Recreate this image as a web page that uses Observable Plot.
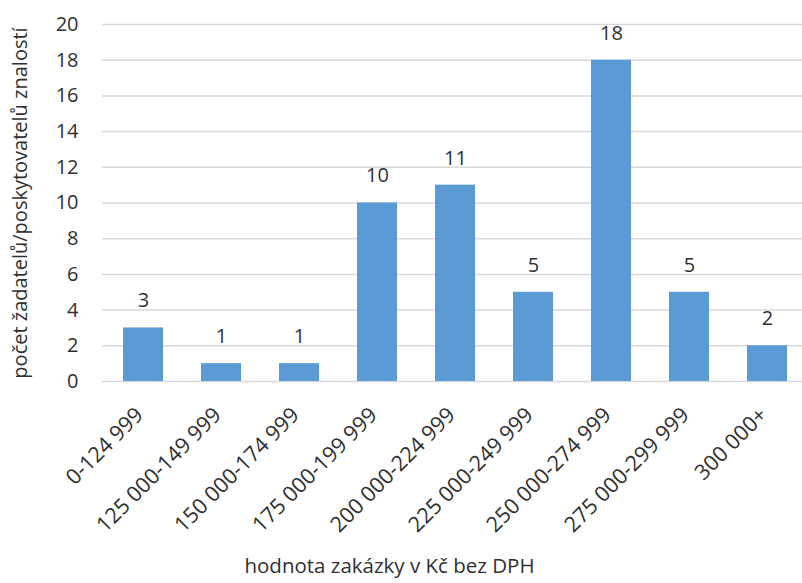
<!DOCTYPE html>
<html><head><meta charset="utf-8">
<script src="https://cdn.jsdelivr.net/npm/d3@7"></script>
<script src="https://cdn.jsdelivr.net/npm/@observablehq/plot@0.6"></script>
<style>
html,body{margin:0;padding:0;background:#fff;overflow:hidden;}
#chart svg{display:block;max-width:none !important;}
</style></head>
<body><div id="chart"></div>
<script>
const categories = ["0-124 999","125 000-149 999","150 000-174 999","175 000-199 999","200 000-224 999","225 000-249 999","250 000-274 999","275 000-299 999","300 000+"];
const values = [3,1,1,10,11,5,18,5,2];
const yTicks = [0,2,4,6,8,10,12,14,16,18,20];
const xTitle = "hodnota zakázky v Kč bez DPH";
const yTitle = "počet žadatelů/poskytovatelů znalostí";

const data = categories.map((c,i)=>({cat:c, val:values[i]}));
const font = "'Open Sans', sans-serif";
const chart = Plot.plot({
  width: 808, height: 583,
  marginLeft: 102, marginRight: 0, marginTop: 24, marginBottom: 202,
  style: {fontFamily: font, fontSize: "20px", color: "#303030", background: "#fff", maxWidth: "none"},
  x: {domain: categories, paddingInner: 0.49, paddingOuter: 0.245},
  y: {domain: [0,20]},
  marks: [
    Plot.gridY(yTicks, {stroke: "#d9d9d9", strokeOpacity: 1, strokeWidth: 1.5}),
    Plot.barY(data, {x: "cat", y: "val", fill: "#5b9bd5"}),
    Plot.text(data, {x: "cat", y: "val", text: d=>String(d.val), dy: -27, fill: "#303030", fontSize: 20}),
    Plot.axisY(yTicks, {tickSize: 0, tickPadding: 24, fontSize: 20, label: yTitle, labelAnchor: "center", labelArrow: "none", labelOffset: 90}),
    Plot.axisX({tickSize: 0, tickRotate: -45, tickPadding: 30, dx: -4, fontSize: 21.5, label: null}),
    Plot.text([xTitle], {frameAnchor: "bottom", dx: -66, dy: 191, fontSize: 20.5, fill: "#303030"})
  ]
});
document.getElementById("chart").appendChild(chart);
</script></body></html>
